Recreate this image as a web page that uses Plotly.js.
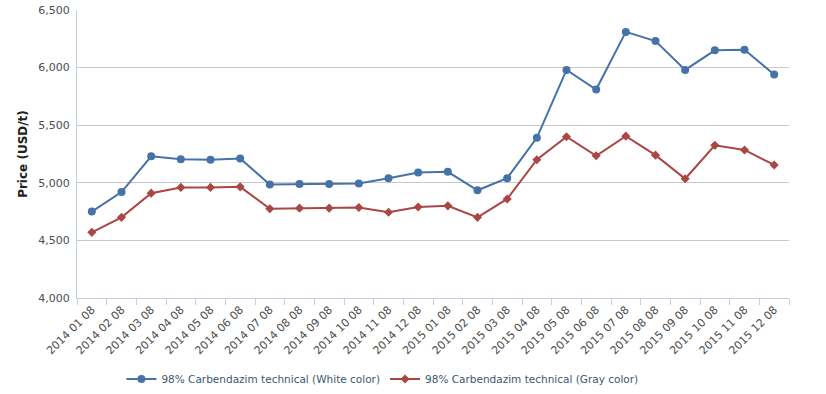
<!DOCTYPE html>
<html><head><meta charset="utf-8">
<script src="https://cdn.plot.ly/plotly-3.0.1.min.js"></script>
<style>html,body{margin:0;padding:0;background:#fff}#chart{width:826px;height:394px}</style>
</head><body><div id="chart"></div>
<script>
const categories = ["2014 01 08","2014 02 08","2014 03 08","2014 04 08","2014 05 08","2014 06 08","2014 07 08","2014 08 08","2014 09 08","2014 10 08","2014 11 08","2014 12 08","2015 01 08","2015 02 08","2015 03 08","2015 04 08","2015 05 08","2015 06 08","2015 07 08","2015 08 08","2015 09 08","2015 10 08","2015 11 08","2015 12 08"];
const whiteValues = [4750,4920,5230,5205,5200,5210,4985,4990,4990,4995,5040,5090,5095,4935,5040,5390,5980,5810,6310,6230,5980,6150,6155,5940];
const grayValues = [4570,4700,4910,4960,4960,4965,4775,4780,4780,4785,4745,4790,4800,4700,4860,5200,5400,5235,5405,5240,5035,5325,5285,5155];
const seriesNames = ["98% Carbendazim technical (White color)","98% Carbendazim technical (Gray color)"];
const yTicks = [4000,4500,5000,5500,6000,6500];
const yTickLabels = ["4,000","4,500","5,000","5,500","6,000","6,500"];

const font = "Verdana, 'DejaVu Sans', sans-serif";
const traces = [
  {x: categories, y: whiteValues, name: seriesNames[0], type: "scatter", mode: "lines+markers",
   line: {color: "#4572A7", width: 2}, marker: {symbol: "circle", size: 8, color: "#4572A7"}},
  {x: categories, y: grayValues, name: seriesNames[1], type: "scatter", mode: "lines+markers",
   line: {color: "#AA4643", width: 2}, marker: {symbol: "diamond", size: 7, color: "#AA4643"}}
];
const layout = {
  width: 826, height: 394,
  margin: {l: 77, r: 37, t: 10, b: 96, autoexpand: false},
  paper_bgcolor: "#fff", plot_bgcolor: "#fff",
  font: {family: font, size: 11, color: "#4d4d4d"},
  showlegend: true,
  legend: {orientation: "h", xref: "container", yref: "container", x: 0.147, xanchor: "left",
           y: 0.038, yanchor: "middle",
           font: {family: font, size: 10.5, color: "#3e576f"}, itemwidth: 30},
  xaxis: {type: "category", tickangle: -45, tickson: "boundaries", ticks: "outside", ticklen: 6,
          tickcolor: "#C0D0E0", showline: true, linecolor: "#C0D0E0", linewidth: 1,
          showgrid: false, zeroline: false, automargin: false,
          tickfont: {family: font, size: 11, color: "#4d4d4d"},
          range: [-0.5, 23.5], fixedrange: true},
  yaxis: {range: [4000, 6500], tickvals: yTicks, ticktext: yTickLabels, showgrid: true,
          gridcolor: "#C8C8C8", showline: true, linecolor: "#C0D0E0", zeroline: false,
          ticks: "", ticklabelstandoff: 4, automargin: false,
          tickfont: {family: font, size: 11, color: "#4d4d4d"},
          title: {text: "<b>Price (USD/t)</b>", font: {family: font, size: 12, color: "#222"}, standoff: 8}}
};
Plotly.newPlot("chart", traces, layout, {displayModeBar: false, staticPlot: true});
</script></body></html>
